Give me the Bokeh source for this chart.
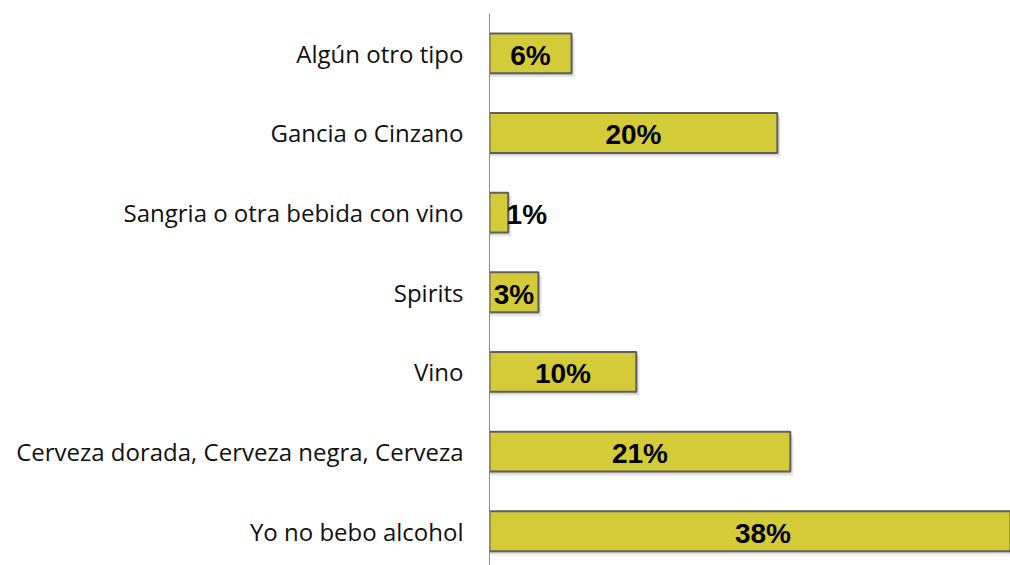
from bokeh.plotting import figure
from bokeh.models import Range1d, FixedTicker, ColumnDataSource
from bokeh.core.properties import value
from bokeh.embed import file_html
from bokeh.resources import INLINE

# data (top to bottom)
categories = ["Algún otro tipo", "Gancia o Cinzano", "Sangria o otra bebida con vino",
              "Spirits", "Vino", "Cerveza dorada, Cerveza negra, Cerveza", "Yo no bebo alcohol"]
values = [5.7, 20.0, 1.3, 3.4, 10.2, 20.9, 38.0]
labels = ["6%", "20%", "1%", "3%", "10%", "21%", "38%"]

n = len(categories)
ypos = [n - 1 - i for i in range(n)]

p = figure(width=1010, height=565, output_backend="svg", toolbar_location=None,
           x_range=Range1d(0, 36.2), y_range=Range1d(-0.43, 6.5),
           min_border_left=489, min_border_right=0, min_border_top=13, min_border_bottom=0)
p.outline_line_color = None
p.grid.grid_line_color = None
p.xaxis.visible = False
p.background_fill_color = "white"

yax = p.yaxis[0]
yax.ticker = FixedTicker(ticks=ypos)
yax.major_label_overrides = {y: c for y, c in zip(ypos, categories)}
yax.major_tick_line_color = None
yax.minor_tick_line_color = None
yax.axis_line_color = "#8a8a8a"
yax.axis_line_width = 1
yax.major_label_standoff = 20
yax.major_label_text_font = "Open Sans"
yax.major_label_text_font_size = "24px"
yax.major_label_text_color = "#111111"

src = ColumnDataSource(dict(y=ypos, v=values, lab=labels,
                            xc=[v / 2 for v in values]))

# soft shadow
for k, a in [(0.35, 0.08), (0.25, 0.10), (0.15, 0.12)]:
    p.hbar(y=[y - k * 0.16 for y in ypos], left=0, right=[v + k * 0.7 for v in values],
           height=0.5, fill_color="#555555", fill_alpha=a, line_color=None)

p.hbar(y="y", left=0, right="v", height=0.5, source=src,
       fill_color="#D3CB38", line_color="#5f5f5f", line_width=2)

offsets = [28 if v < 2.5 else 0 for v in values]
src.data["xo"] = offsets
p.text(x="xc", y="y", text="lab", source=src, x_offset="xo", y_offset=2,
       text_align="center", text_baseline="middle",
       text_font=value("Liberation Sans"), text_font_style="bold",
       text_font_size="28px", text_color="black")

open("out.html", "w").write(file_html(p, INLINE))
